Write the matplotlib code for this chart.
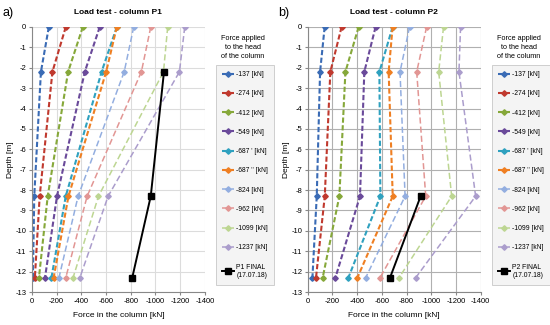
import matplotlib
matplotlib.use('Agg')
import matplotlib.pyplot as plt

plt.rcParams['font.family'] = ['Liberation Sans', 'DejaVu Sans']
plt.rcParams['axes.unicode_minus'] = False

depth = [0, -2.2, -8.3, -12.3]
labels = ['-137 [kN]', '-274 [kN]', '-412 [kN]', '-549 [kN]', "-687 ' [kN]",
          "-687 '' [kN]", '-824 [kN]', '-962 [kN]', '-1099 [kN]', '-1237 [kN]']
colors = ['#3a6bb5', '#c0392e', '#86a83a', '#6a4a9a', '#2fa1bf', '#ef7f22',
          '#93aee0', '#e29694', '#bdd692', '#ab9dcc']

# column P1 - force at each depth [kN]
p1 = [
    [-137, -73, -19, -8],
    [-274, -166, -63, -24],
    [-412, -293, -128, -57],
    [-549, -428, -203, -106],
    [-687, -564, -274, -158],
    [-687, -601, -296, -176],
    [-824, -747, -374, -219],
    [-962, -886, -447, -274],
    [-1099, -1065, -539, -333],
    [-1237, -1194, -617, -388],
]
p1_final_depth = [-2.2, -8.3, -12.3]
p1_final = [-1069, -962, -812]

# column P2
p2 = [
    [-137, -100, -73, -38],
    [-274, -183, -138, -67],
    [-412, -305, -256, -121],
    [-549, -458, -423, -224],
    [-687, -580, -588, -329],
    [-687, -655, -688, -402],
    [-824, -747, -788, -469],
    [-962, -882, -955, -585],
    [-1099, -1060, -1165, -739],
    [-1237, -1224, -1359, -874],
]
p2_final_depth = [-8.3, -12.3]
p2_final = [-914, -666]

fig = plt.figure(figsize=(5.5, 3.25), dpi=100)


def panel(left, data, fdepth, fvals, title, letter, flabel, gridcol):
    ax = fig.add_axes([left, 0.1015, 0.3145, 0.8155])
    for i, vals in enumerate(data):
        if i < 6:
            ax.plot(vals, depth, color=colors[i], lw=1.5, ls=(0, (2.5, 1.2)),
                    marker='D', ms=2.8, label=labels[i])
        else:
            ax.plot(vals, depth, color=colors[i], lw=1.1, ls=(0, (4, 2)),
                    marker='D', ms=2.8, label=labels[i])
    ax.plot(fvals, fdepth, color='black', lw=1.4, marker='s', ms=4, label=flabel)
    ax.set_xlim(0, -1400)
    ax.set_ylim(-13, 0)
    ax.set_xticks(range(0, -1401, -200))
    ax.set_yticks(range(0, -14, -1))
    ax.grid(True, color=gridcol, lw=0.8)
    ax.set_axisbelow(True)
    for s in ['top', 'right']:
        ax.spines[s].set_visible(False)
    ax.spines['left'].set_color('#888888')
    ax.spines['bottom'].set_color('#888888')
    ax.tick_params(labelsize=5.5, length=2, color='#888888', pad=2)
    ax.set_xlabel('Force in the column [kN]', fontsize=6, labelpad=5)
    ax.set_ylabel('Depth [m]', fontsize=6, labelpad=1)
    ax.set_title(title, fontsize=6, fontweight='bold', pad=9)
    fig.text(left - 0.053, 0.95, letter, fontsize=9)
    ax.text(1.22, 0.97, 'Force applied\nto the head\nof the column', transform=ax.transAxes,
            ha='center', va='top', fontsize=5.2, linespacing=1.4)
    leg = ax.legend(loc='upper left', bbox_to_anchor=(1.064, 0.857), fontsize=4.9,
                    handlelength=1.8, labelspacing=1.8, frameon=True, fancybox=False,
                    borderpad=0.9, handletextpad=0.3, borderaxespad=0)
    leg.get_frame().set_facecolor('#f2f2f2')
    leg.get_frame().set_edgecolor('#bbbbbb')
    leg.get_frame().set_linewidth(0.6)
    return ax


panel(0.058, p1, p1_final_depth, p1_final, 'Load test - column P1', 'a)',
      'P1 FINAL\n(17.07.18)', '#dcdcdc')
panel(0.5595, p2, p2_final_depth, p2_final, 'Load test - column P2', 'b)',
      'P2 FINAL\n(17.07.18)', '#b0b0b0')

fig.savefig('out.png', dpi=100)
